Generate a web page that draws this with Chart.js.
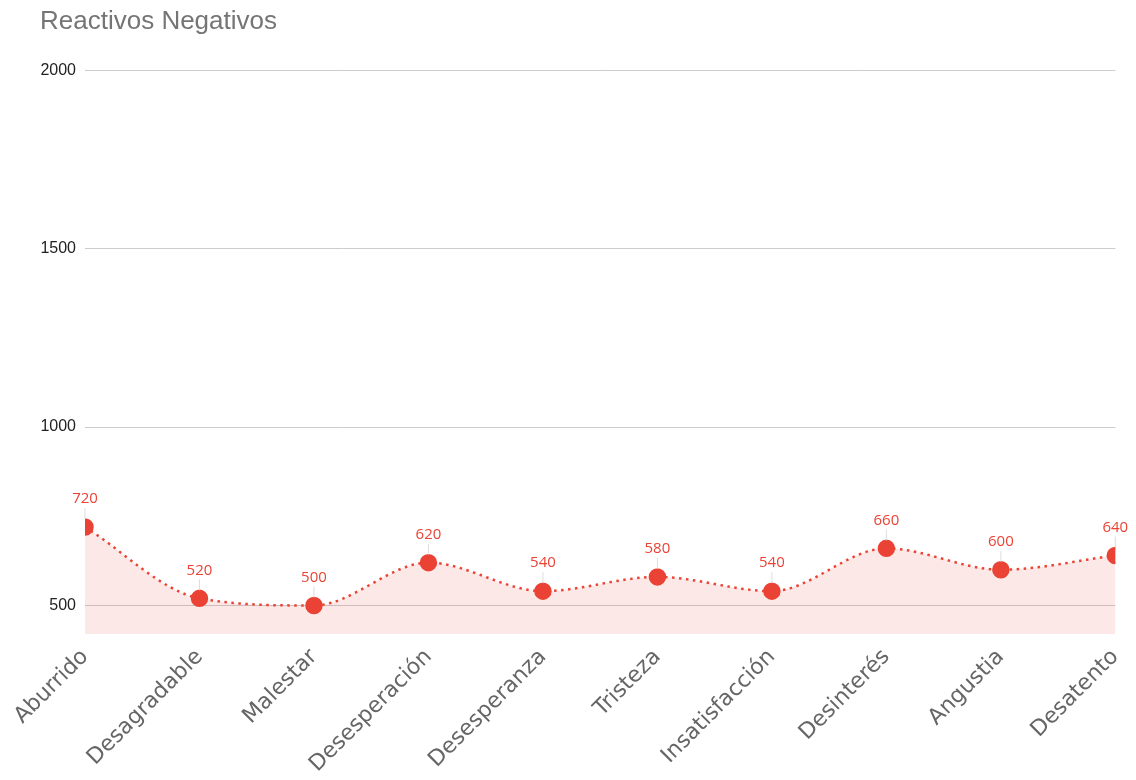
<!DOCTYPE html>
<html>
<head>
<meta charset="utf-8">
<script src="https://cdn.jsdelivr.net/npm/chart.js@4.4.1/dist/chart.umd.min.js"></script>
<style>
  html, body { margin: 0; padding: 0; background: #fff; }
  #wrap { width: 1136px; height: 780px; }
</style>
</head>
<body>
<div id="wrap"><canvas id="negChart" width="1136" height="780"></canvas></div>
<script>
const categories = ['Aburrido', 'Desagradable', 'Malestar', 'Desesperación', 'Desesperanza',
  'Tristeza', 'Insatisfacción', 'Desinterés', 'Angustia', 'Desatento'];
const values = [720, 520, 500, 620, 540, 580, 540, 660, 600, 640];
const yTicks = [500, 1000, 1500, 2000];

const red = '#ea4335';

// labels above points with a thin leader line
const pointLabels = {
  id: 'pointLabels',
  afterDatasetsDraw(chart) {
    const ctx = chart.ctx;
    const meta = chart.getDatasetMeta(0);
    ctx.save();
    meta.data.forEach((pt, i) => {
      ctx.strokeStyle = '#dddddd';
      ctx.lineWidth = 1;
      ctx.beginPath();
      ctx.moveTo(pt.x, pt.y - 19);
      ctx.lineTo(pt.x, pt.y - 8);
      ctx.stroke();
      ctx.fillStyle = red;
      ctx.font = '15px "Open Sans", sans-serif';
      ctx.textAlign = 'center';
      ctx.textBaseline = 'middle';
      ctx.fillText(String(values[i]), pt.x, pt.y - 28);
    });
    ctx.restore();
  }
};

const ctx = document.getElementById('negChart').getContext('2d');

const negChart = new Chart(ctx, {
  type: 'line',
  data: {
    labels: categories,
    datasets: [{
      data: values,
      borderColor: red,
      borderWidth: 2.5,
      borderDash: [2.5, 4.5],
      fill: 'start',
      backgroundColor: 'rgba(234, 67, 53, 0.12)',
      pointBackgroundColor: red,
      pointBorderColor: red,
      pointRadius: 7.5,
      pointHoverRadius: 7.5,
      cubicInterpolationMode: 'monotone',
      clip: 0,
    }]
  },
  options: {
    responsive: false,
    animation: false,
    layout: {
      padding: { top: 6, left: 40, right: 19, bottom: 0 }
    },
    plugins: {
      legend: {
        display: false
      },
      tooltip: {
        enabled: false
      },
      title: {
        display: true,
        text: 'Reactivos Negativos',
        align: 'start',
        color: '#757575',
        font: { family: '"Liberation Sans", Arial, sans-serif', size: 26, weight: 'normal' },
        padding: { top: 0, bottom: 33 }
      }
    },
    scales: {
      x: {
        offset: false,
        grid: {
          display: false
        },
        border: {
          display: false
        },
        ticks: {
          autoSkip: false,
          minRotation: 45,
          maxRotation: 45,
          color: '#666666',
          padding: 2,
          font: { family: '"DejaVu Sans", sans-serif', size: 22 }
        },
        afterFit(scale) {
          scale.height = 146;
        }
      },
      y: {
        min: 420,
        max: 2000,
        grid: {
          color: '#cccccc',
          drawTicks: false
        },
        border: {
          display: false
        },
        ticks: {
          color: '#222222',
          padding: 9,
          font: { family: '"Liberation Sans", Arial, sans-serif', size: 16 },
          callback: (v) => String(v)
        },
        afterBuildTicks(scale) {
          scale.ticks = yTicks.map(v => ({ value: v }));
        },
        afterFit(scale) {
          scale.width = 45;
        }
      }
    }
  },
  plugins: [pointLabels]
});
</script>
</body>
</html>
